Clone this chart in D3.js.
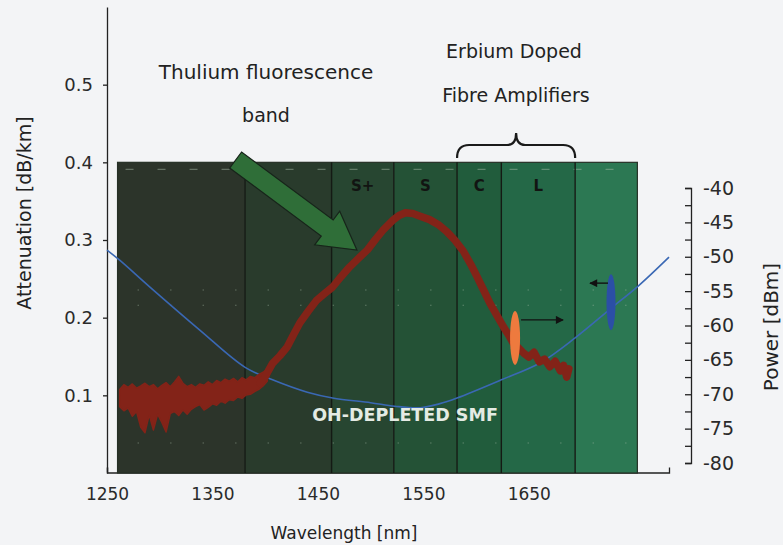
<!DOCTYPE html>
<html><head><meta charset="utf-8">
<script src="https://cdn.jsdelivr.net/npm/d3@7"></script>
<style>
html,body{margin:0;padding:0;background:#f3f4f6;}
svg{display:block;}
text{font-family:"DejaVu Sans",Verdana,sans-serif;fill:#222;}
</style></head><body>
<svg id="chart" width="783" height="545"></svg>
<script>
// Axis ticks
const wlTicks = [1250, 1350, 1450, 1550, 1650];
const attTicks = [0.1, 0.2, 0.3, 0.4, 0.5];
const powTicks = [-80, -77.5, -75, -72.5, -70, -67.5, -65, -62.5, -60, -57.5, -55, -52.5, -50, -47.5, -45, -42.5, -40];

// Telecom band panel (edges in nm) and shading
const bandEdges = [1260, 1381, 1463, 1522, 1582, 1624, 1694, 1753];
const bandColors = ["#2c342a", "#293b2c", "#274631", "#245236", "#215c3c", "#246847", "#2c7853"];
const bandNames = ["", "", "S+", "S", "C", "L", ""];
const panelTop = 0.4;

// Faint grid rows inside the panel (attenuation units)
const gridDashRows = [0.391];
const gridDotRows = [0.2356, 0.216, 0.0386];

// OH-depleted SMF attenuation (dB/km)
const smfWl  = [1250, 1262, 1291, 1338, 1381, 1407, 1440, 1464, 1500, 1523, 1547, 1565, 1582, 1624, 1661, 1694, 1728, 1754, 1783];
const smfAtt = [0.287, 0.274, 0.239, 0.184, 0.136, 0.120, 0.104, 0.0966, 0.0905, 0.086, 0.084, 0.089, 0.0966, 0.120, 0.142, 0.174, 0.212, 0.241, 0.278];

// Thulium fluorescence: noisy low-power region (upper / lower envelope, dBm)
const noiseWl = [1262,1266,1270,1274,1278,1282,1286,1290,1294,1298,1302,1306,1310,1314,1318,1322,1326,1330,1334,1338,1342,1346,1350,1354,1358,1362,1366,1370,1374,1378,1382,1386,1390,1394,1398,1402];
const noiseHi = [-69.3,-68.6,-69.0,-68.5,-69.1,-68.8,-68.4,-68.9,-68.6,-69.2,-68.7,-68.3,-68.9,-68.2,-67.4,-68.4,-68.9,-68.6,-69.0,-68.5,-68.7,-68.2,-68.6,-68.0,-68.3,-67.8,-68.1,-67.7,-68.2,-67.6,-67.9,-67.4,-67.6,-67.1,-66.8,-66.3];
const noiseLo = [-71.8,-72.4,-72.0,-73.2,-72.5,-74.8,-75.6,-73.0,-75.2,-72.9,-74.1,-75.5,-72.8,-72.5,-73.1,-72.3,-72.9,-72.2,-71.8,-71.5,-72.3,-71.9,-71.4,-71.6,-71.0,-71.3,-70.8,-70.9,-70.4,-70.6,-70.1,-70.0,-69.6,-69.3,-68.8,-68.1];

// Thulium fluorescence spectrum above the noise floor (dBm)
const tmWl  = [1395,1400,1403,1407,1414,1421,1427,1433,1441,1449,1456,1464,1472,1480,1488,1497,1505,1512,1521,1527,1533,1540,1547,1556,1564,1572,1580,1588,1595,1601,1607,1613,1620,1626,1631,1635,1640,1645,1650,1655,1660,1665,1670,1675,1680,1683,1686,1688];
const tmPow = [-68.4,-67.5,-66.6,-65.5,-64.4,-63.1,-61.3,-59.6,-57.9,-56.3,-55.4,-54.4,-52.9,-51.5,-50.3,-49.0,-47.4,-46.1,-44.7,-44.0,-43.6,-43.7,-44.1,-44.6,-45.3,-46.3,-47.6,-49.2,-51.1,-52.9,-54.8,-56.7,-58.6,-60.2,-61.4,-62.5,-63.2,-64.0,-64.6,-63.9,-65.3,-64.9,-66.0,-65.2,-66.6,-65.8,-67.5,-66.3];

// Curve markers: which axis each curve reads from
const markerOrange = {wl: 1637, pow: -61.8};
const markerBlue = {wl: 1728, att: 0.220};

// Fluorescence band arrow (tail -> tip)
const arrowTail = {wl: 1372, att: 0.403};
const arrowTip  = {wl: 1487, att: 0.287};

const svg = d3.select("#chart");
const x = d3.scaleLinear().domain([1250, 1783]).range([107, 669]);
const yAtt = d3.scaleLinear().domain([0, 0.6]).range([473, 7]);
const yPow = d3.scaleLinear().domain([-80, -40]).range([463, 188]);

// Axes
const axL = svg.append("g").attr("transform", `translate(${x(1250)},0)`)
  .call(d3.axisLeft(yAtt).tickValues(attTicks).tickSize(4).tickSizeOuter(0).tickPadding(10).tickFormat(d3.format(".1f")));
const axB = svg.append("g").attr("transform", `translate(0,${yAtt(0) - 0.5})`)
  .call(d3.axisBottom(x).tickValues(wlTicks).tickSizeInner(-5).tickSizeOuter(-5).tickPadding(15).tickFormat(d => d));
const axR = svg.append("g").attr("transform", "translate(691,0)")
  .call(d3.axisRight(yPow).tickValues(powTicks).tickSizeInner(-6).tickSizeOuter(-6).tickPadding(12)
    .tickFormat(d => (d % 5 === 0 ? String(d) : "")));
[axL, axB, axR].forEach(g => {
  g.selectAll("path, line").attr("stroke", "#222").attr("stroke-width", 1.3);
  g.selectAll("text").style("fill", "#2a2a2a").attr("font-family", "DejaVu Sans, Verdana, sans-serif");
});
axL.selectAll("text").attr("font-size", 18);
axB.selectAll("text").attr("font-size", 17);
axR.selectAll("text").attr("font-size", 19);

// Band panel
const bands = d3.range(bandColors.length).map(i => ({x0: bandEdges[i], x1: bandEdges[i + 1], color: bandColors[i], name: bandNames[i]}));
const panel = svg.append("g");
panel.selectAll("rect.band").data(bands).join("rect")
  .attr("class", "band")
  .attr("x", d => x(d.x0)).attr("width", d => x(d.x1) - x(d.x0))
  .attr("y", yAtt(panelTop)).attr("height", yAtt(0) - yAtt(panelTop))
  .attr("fill", d => d.color);
panel.append("rect")
  .attr("x", x(bandEdges[0])).attr("width", x(bandEdges[bandEdges.length - 1]) - x(bandEdges[0]))
  .attr("y", yAtt(panelTop)).attr("height", yAtt(0) - yAtt(panelTop))
  .attr("fill", "none").attr("stroke", "#263026").attr("stroke-width", 1.2);

panel.selectAll("line.gdash").data(gridDashRows).join("line")
  .attr("x1", x(bandEdges[0]) + 8).attr("x2", x(bandEdges[bandEdges.length - 1]))
  .attr("y1", d => yAtt(d)).attr("y2", d => yAtt(d))
  .attr("stroke", "#a9bca9").attr("stroke-opacity", 0.45).attr("stroke-width", 1.2)
  .attr("stroke-dasharray", "8,24");
panel.selectAll("line.gdot").data(gridDotRows).join("line")
  .attr("x1", x(bandEdges[0]) + 20).attr("x2", x(bandEdges[bandEdges.length - 1]))
  .attr("y1", d => yAtt(d)).attr("y2", d => yAtt(d))
  .attr("stroke", "#a9bca9").attr("stroke-opacity", 0.45).attr("stroke-width", 1.2)
  .attr("stroke-dasharray", "1.5,31");

panel.selectAll("line.edge").data(bandEdges.slice(1, -1)).join("line")
  .attr("x1", d => x(d)).attr("x2", d => x(d))
  .attr("y1", yAtt(panelTop)).attr("y2", yAtt(0))
  .attr("stroke", "#141a14").attr("stroke-width", 1.4);

panel.selectAll("text.bname").data(bands.filter(d => d.name)).join("text")
  .attr("x", d => (x(d.x0) + x(d.x1)) / 2).attr("y", 191)
  .attr("text-anchor", "middle").attr("font-weight", "bold").attr("font-size", 15)
  .style("fill", "#121412").text(d => d.name);

// Attenuation curve
svg.append("path")
  .datum(d3.zip(smfWl, smfAtt))
  .attr("fill", "none").attr("stroke", "#3a68b4").attr("stroke-width", 1.6)
  .attr("d", d3.line().x(d => x(d[0])).y(d => yAtt(d[1])).curve(d3.curveCatmullRom));

// Fluorescence spectrum: noise floor as a filled envelope, then the emission line
const redCol = "#832318";
svg.append("path")
  .datum(d3.zip(noiseWl, noiseHi, noiseLo))
  .attr("fill", redCol).attr("stroke", redCol).attr("stroke-width", 1.5).attr("stroke-linejoin", "round")
  .attr("d", d3.area().x(d => x(d[0])).y0(d => yPow(d[2])).y1(d => yPow(d[1])).curve(d3.curveLinear));
svg.append("path")
  .datum(d3.zip(tmWl, tmPow))
  .attr("fill", "none").attr("stroke", redCol).attr("stroke-width", 7.5)
  .attr("stroke-linejoin", "round").attr("stroke-linecap", "round")
  .attr("d", d3.line().x(d => x(d[0])).y(d => yPow(d[1])).curve(d3.curveLinear));

svg.append("text").attr("x", 405).attr("y", 421).attr("text-anchor", "middle")
  .attr("font-weight", "bold").attr("font-size", 17.5).style("fill", "#e4ebe4")
  .text("OH-DEPLETED SMF");

// Green arrow pointing at the fluorescence band
{
  const tx = x(arrowTail.wl), ty = yAtt(arrowTail.att);
  const hx = x(arrowTip.wl), hy = yAtt(arrowTip.att);
  const L = Math.hypot(hx - tx, hy - ty);
  const ux = (hx - tx) / L, uy = (hy - ty) / L, nx = -uy, ny = ux;
  const sw = 10, hw = 21, hl = 37;
  const bx = hx - ux * hl, by = hy - uy * hl;
  const pts = [[tx + nx * sw, ty + ny * sw], [bx + nx * sw, by + ny * sw], [bx + nx * hw, by + ny * hw], [hx, hy],
               [bx - nx * hw, by - ny * hw], [bx - nx * sw, by - ny * sw], [tx - nx * sw, ty - ny * sw]];
  svg.append("polygon").attr("points", pts.map(p => p.join(",")).join(" "))
    .attr("fill", "#2f6e38").attr("stroke", "#17241a").attr("stroke-width", 1.2).attr("stroke-linejoin", "miter");
}

// Markers with axis arrows
const defs = svg.append("defs");
defs.append("marker").attr("id", "ah").attr("viewBox", "0 0 10 10").attr("refX", 9).attr("refY", 5)
  .attr("markerWidth", 10).attr("markerHeight", 8).attr("markerUnits", "userSpaceOnUse").attr("orient", "auto")
  .append("path").attr("d", "M0,0L10,5L0,10Z").attr("fill", "#111");

{
  const ox = x(markerOrange.wl), oy = yPow(markerOrange.pow);
  svg.append("ellipse").attr("cx", ox).attr("cy", oy).attr("rx", 5).attr("ry", 27).attr("fill", "#ee7a3e");
  svg.append("line").attr("x1", ox + 6).attr("x2", ox + 48).attr("y1", oy - 18).attr("y2", oy - 18)
    .attr("stroke", "#111").attr("stroke-width", 1.4).attr("marker-end", "url(#ah)");
  const bx = x(markerBlue.wl), by = yAtt(markerBlue.att);
  svg.append("ellipse").attr("cx", bx).attr("cy", by).attr("rx", 4.5).attr("ry", 28).attr("fill", "#2b4fa6");
  svg.append("line").attr("x1", bx - 3).attr("x2", bx - 21).attr("y1", by - 19).attr("y2", by - 19)
    .attr("stroke", "#111").attr("stroke-width", 1.4).attr("marker-end", "url(#ah)");
}

// Titles
svg.append("text").attr("transform", "translate(31,213) rotate(-90)").attr("text-anchor", "middle")
  .attr("font-size", 19).text("Attenuation [dB/km]");
svg.append("text").attr("transform", "translate(778,327) rotate(-90)").attr("text-anchor", "middle")
  .attr("font-size", 20).text("Power [dBm]");
svg.append("text").attr("x", 344).attr("y", 539).attr("text-anchor", "middle")
  .attr("font-size", 17).text("Wavelength [nm]");

// Annotations
svg.append("text").attr("x", 266).attr("y", 79).attr("text-anchor", "middle").attr("font-size", 20).text("Thulium fluorescence");
svg.append("text").attr("x", 266).attr("y", 122).attr("text-anchor", "middle").attr("font-size", 19).text("band");
svg.append("text").attr("x", 514).attr("y", 58).attr("text-anchor", "middle").attr("font-size", 19).text("Erbium Doped");
svg.append("text").attr("x", 516).attr("y", 102).attr("text-anchor", "middle").attr("font-size", 19).text("Fibre Amplifiers");

// Brace over the C and L bands
{
  const l = x(bandEdges[4]), r = x(bandEdges[6]), m = (l + r) / 2;
  const yb = 158, yh = 145, yt = 133;
  const d = `M${l},${yb} Q${l},${yh} ${l + 12},${yh} L${m - 9},${yh} Q${m},${yh} ${m},${yt} Q${m},${yh} ${m + 9},${yh} L${r - 12},${yh} Q${r},${yh} ${r},${yb}`;
  svg.append("path").attr("d", d).attr("fill", "none").attr("stroke", "#1a1a1a").attr("stroke-width", 2.2);
}
</script>
</body></html>
